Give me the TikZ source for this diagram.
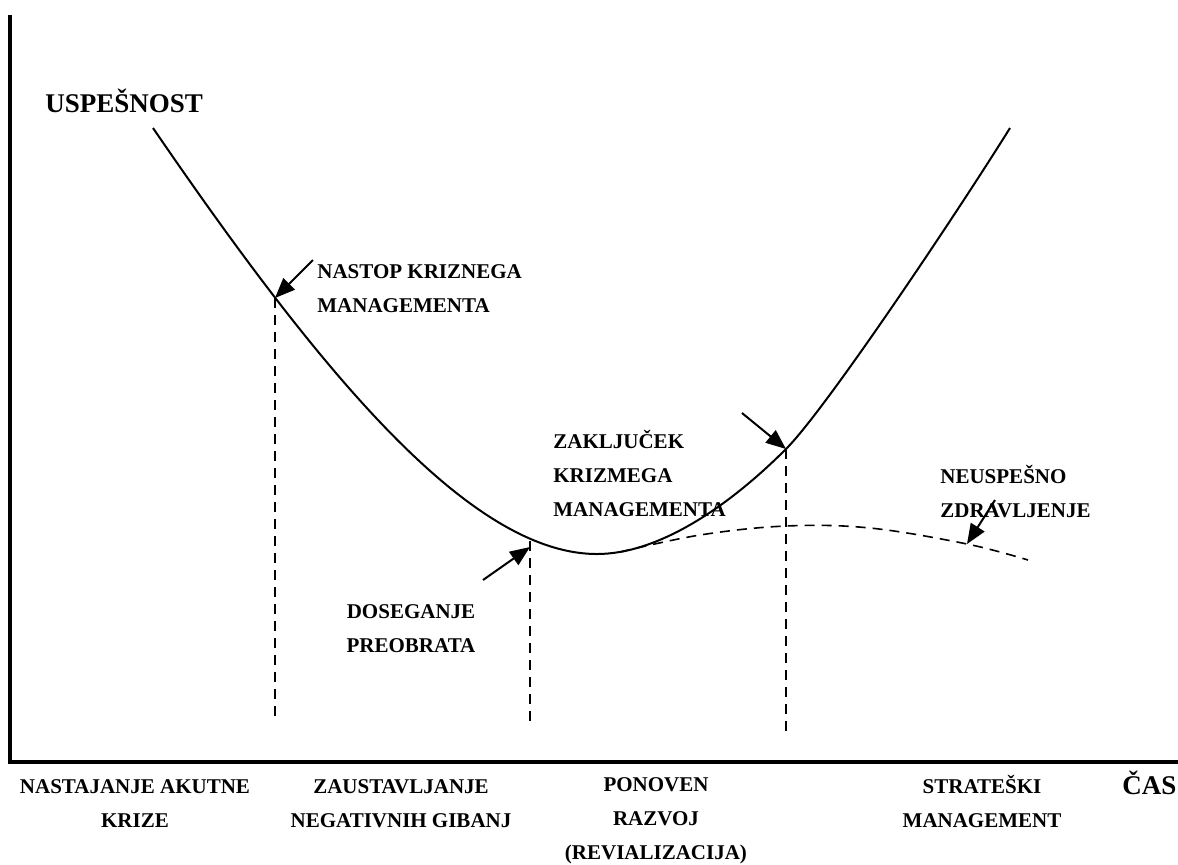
\documentclass[tikz,border=0pt]{standalone}
\usepackage{fontspec}
\setmainfont{Liberation Serif}
\usetikzlibrary{arrows.meta}
\tikzset{
  lbl/.style  ={font=\fontsize{10.5}{17}\selectfont\bfseries, inner sep=0pt},
  big/.style  ={font=\fontsize{13.5}{16}\selectfont\bfseries, inner sep=0pt},
  axis/.style ={line width=2pt, line join=miter},
  crv/.style  ={line width=1pt},
  guide/.style={line width=0.8pt, dash pattern=on 5pt off 3.5pt},
  ar/.style   ={-{Triangle[length=10pt,width=8pt]}, line width=1pt}
}
\begin{document}
\begin{tikzpicture}[x=0.5pt,y=-0.5pt]
\useasboundingbox (0,0) rectangle (1178,864);
% axes
\coordinate (ytop) at (9.5,15);
\coordinate (o) at (9.5,761.5);
\coordinate (xend) at (1178,761.5);
\draw[axis] (ytop) -- (o) -- (xend);
% points on the curve
\coordinate (zac) at (153,128);
\coordinate (nastop) at (275,298);
\coordinate (preobrat) at (530,541);
\coordinate (dno) at (597,554);
\coordinate (zaklj) at (786,449);
\coordinate (kon) at (1010,128);
\coordinate (odcep) at (620,552);
\coordinate (presek) at (786,526);
\coordinate (neusp) at (967,544);
% ends of the dashed guides
\coordinate (nastopdol) at (275,722);
\coordinate (preobratdol) at (530,727);
\coordinate (zakljdol) at (786,737);
% arrow tails
\coordinate (nastoprep) at (313,260);
\coordinate (preobratrep) at (483,580);
\coordinate (zakljrep) at (742,413);
\coordinate (neusprep) at (995,500);
% success curve
\draw[crv] (zac) .. controls (320,372) and (470,554) .. (dno)
  .. controls (657,554) and (726,509) .. (zaklj)
  .. controls (826,409) and (957,213) .. (kon);
\draw[guide] plot[smooth, tension=0.6] coordinates {(odcep) (700,535) (presek)
  (870,528) (neusp) (1028,560)};
\draw[guide] (nastop) -- (nastopdol);
\draw[guide] (preobrat) -- (preobratdol);
\draw[guide] (zaklj) -- (zakljdol);
\draw[ar] (nastoprep) -- (nastop);
\draw[ar] (preobratrep) -- ([yshift=-3]preobrat);
\draw[ar] (zakljrep) -- (zaklj);
\draw[ar] (neusprep) -- (neusp);
% labels (base = last line)
\node[big, anchor=base west] (usp) at (45,112) {USPEŠNOST};
\node[big, anchor=base west] (cas) at (1122,794) {ČAS};
\node[lbl, align=left, anchor=base west] (lnastop) at (317,312)
  {NASTOP KRIZNEGA\\MANAGEMENTA};
\node[lbl, align=left, anchor=base west] (lzaklj) at (553,516)
  {ZAKLJUČEK\\KRIZMEGA\\MANAGEMENTA};
\node[lbl, align=center, anchor=base] (lpreobrat) at (411,652)
  {DOSEGANJE\\PREOBRATA};
\node[lbl, align=left, anchor=base west] (lneusp) at (940,517)
  {NEUSPEŠNO\\ZDRAVLJENJE};
\node[lbl, align=center, anchor=base] (f1) at (135,827)
  {NASTAJANJE AKUTNE\\KRIZE};
\node[lbl, align=center, anchor=base] (f2) at (401,827)
  {ZAUSTAVLJANJE\\NEGATIVNIH GIBANJ};
\node[lbl, align=center, anchor=base] (f3) at (656,859)
  {PONOVEN\\RAZVOJ\\(REVIALIZACIJA)};
\node[lbl, align=center, anchor=base] (f4) at (982,827)
  {STRATEŠKI\\MANAGEMENT};
\end{tikzpicture}
\end{document}
